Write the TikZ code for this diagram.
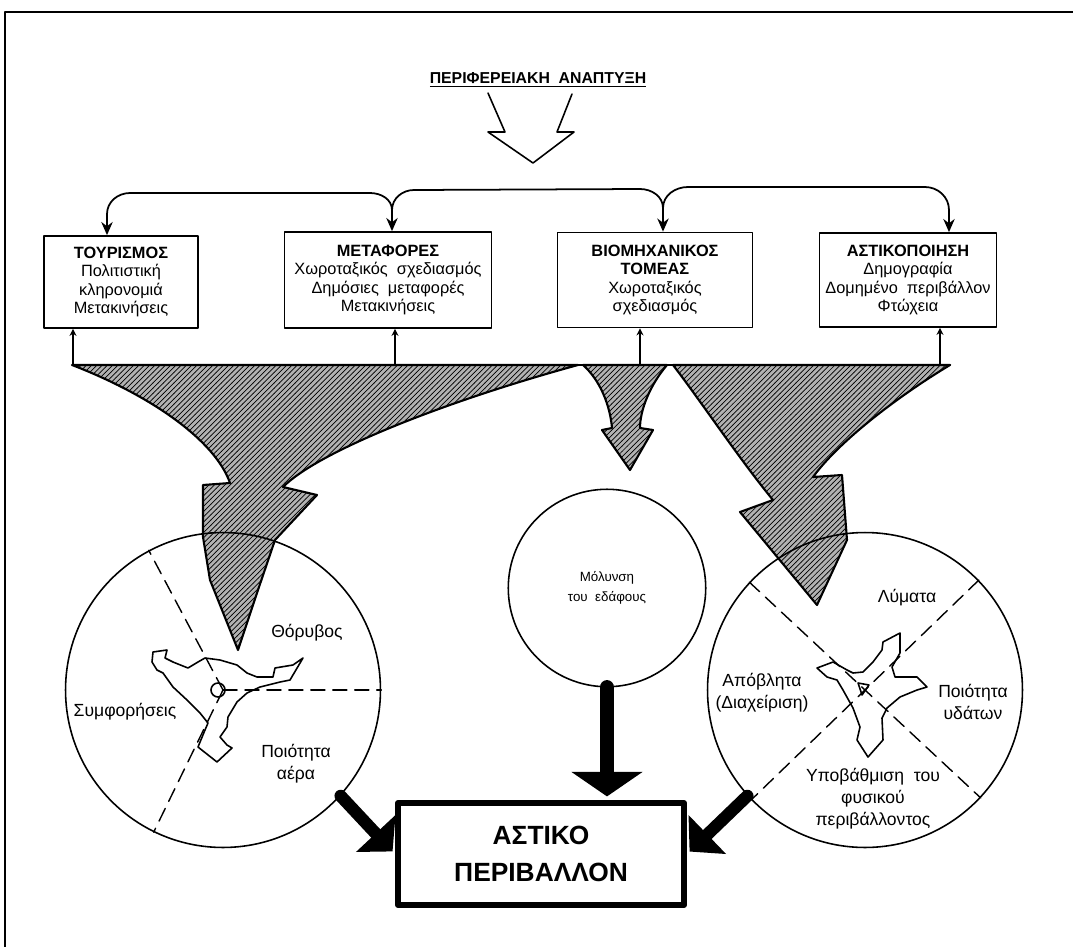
\documentclass[tikz,border=0pt]{standalone}
\usepackage{fontspec}
\setmainfont{Liberation Sans}
\usetikzlibrary{arrows.meta,patterns}

\begin{document}
\begin{tikzpicture}[line cap=round,line join=round,x=.02cm,y=-.02cm,
	box/.style={draw,line width=1pt,align=center,inner sep=2pt,font=\fontsize{9.3}{10.4}\selectfont},
	ring/.style={draw,circle,line width=.9pt,inner sep=0pt,align=center,font=\fontsize{7.6}{11}\selectfont},
	clabel/.style={align=center,font=\fontsize{10}{12.5}\selectfont},
	link/.style={line width=1pt,-{Stealth[length=7.5pt,width=6.5pt]}},
	uplink/.style={line width=.7pt,-{Stealth[length=4pt,width=4pt]}},
	ribbon/.style={line width=1.2pt,preaction={fill=gray!60},pattern=north east lines},
	sector/.style={line width=.8pt,dash pattern=on 8pt off 4.5pt},
	city/.style={line width=.9pt},
	bigarrow/.style={line width=7pt,shorten >=2pt,-{Triangle[length=14pt,width=30pt]}}]
		\useasboundingbox (0,0) rectangle (1073,947);
		\draw[line width=1pt] (5,947) -- (5,12) -- (1073,12);
		\node[font=\fontsize{9}{11}\selectfont\bfseries] (title) at (538,80) {\underline{ΠΕΡΙΦΕΡΕΙΑΚΗ\ \ ΑΝΑΠΤΥΞΗ}};
		\draw[line width=.9pt] (488,93) -- (505,132) -- (488,132) -- (533,163) -- (574,132) -- (557,132) -- (572,94);
		\node[box,minimum width=3.08cm,minimum height=1.84cm] (tour) at (121,282) {\textbf{ΤΟΥΡΙΣΜΟΣ}\\Πολιτιστική\\κληρονομιά\\Μετακινήσεις};
		\node[box,minimum width=4.14cm,minimum height=1.92cm] (meta) at (388,280) {\textbf{ΜΕΤΑΦΟΡΕΣ}\\Χωροταξικός\ \ σχεδιασμός\\Δημόσιες\ \ μεταφορές\\Μετακινήσεις};
		\node[box,minimum width=3.9cm,minimum height=1.9cm] (biom) at (655,280) {\textbf{ΒΙΟΜΗΧΑΝΙΚΟΣ}\\\textbf{ΤΟΜΕΑΣ}\\Χωροταξικός\\σχεδιασμός};
		\node[box,minimum width=3.54cm,minimum height=1.88cm] (astk) at (908,280) {\textbf{ΑΣΤΙΚΟΠΟΙΗΣΗ}\\Δημογραφία\\Δομημένο\ \ περιβάλλον\\Φτώχεια};
		\coordinate (t1) at (107,214);
		\coordinate (j1) at (392,210);
		\coordinate (j2) at (663,208);
		\coordinate (t4) at (949,210);
		\draw[link] (j1) to[out=90,in=0] (370,193) -- (130,193) to[out=180,in=90] (t1) -- (t1 |- tour.north);
		\draw[link] (j1) -- (j1 |- meta.north);
		\draw[link] (j1) to[out=90,in=180] (414,190) -- (640,189) to[out=0,in=90] (j2) -- (j2 |- biom.north);
		\draw[link] (j2) to[out=90,in=180] (688,187) -- (925,187) to[out=0,in=90] (t4) -- (t4 |- astk.north);
		\coordinate (u1) at (73,365);
		\coordinate (u2) at (395,365);
		\coordinate (u3) at (640,365);
		\coordinate (u4) at (940,365);
		\draw[uplink] (u1) -- (u1 |- tour.south);
		\draw[uplink] (u2) -- (u2 |- meta.south);
		\draw[uplink] (u3) -- (u3 |- biom.south);
		\draw[uplink] (u4) -- (u4 |- astk.south);
		\draw[ribbon] (72,365) -- (578,365) .. controls (450,400) and (320,450) .. (283,487) -- (317,495) -- (275,540) -- (258,590) -- (238,650) -- (210,580) -- (203,537) -- (203,485) -- (230,483) .. controls (215,440) and (150,395) .. (72,365) -- cycle;
		\draw[ribbon] (583,365) -- (667,365) .. controls (650,385) and (640,410) .. (640,428) -- (653,430) -- (630,470) -- (602,430) -- (612,428) .. controls (610,405) and (600,380) .. (583,365) -- cycle;
		\draw[ribbon] (673,365) -- (950,365) .. controls (900,395) and (840,440) .. (813,477) -- (842,475) -- (847,540) -- (817,605) -- (740,512) -- (773,500) .. controls (740,460) and (700,400) .. (673,365) -- cycle;
		\draw[line width=1.2pt] (u1) -- (950,365);
		\node[ring,minimum size=6.3cm] (lcirc) at (223,690) {};
		\node[ring,minimum size=3.95cm] (mcirc) at (607,588) {Μόλυνση\\του\ \ εδάφους};
		\node[ring,minimum size=6.3cm] (rcirc) at (865,690) {};
		\draw[sector] (lcirc.center) -- (lcirc.118);
		\draw[sector] (lcirc.center) -- (lcirc.244);
		\draw[sector] (lcirc.center) -- (lcirc.0);
		\draw[sector] (rcirc.137) -- (rcirc.317);
		\draw[sector] (rcirc.44) -- (rcirc.224);
		\draw[city] (153,652) -- (167,650) -- (165,658) -- (173,662) -- (188,668) -- (198,662) -- (205,658) -- (220,660) -- (237,665) -- (247,673) -- (257,677) -- (273,677) -- (275,668) -- (293,665) -- (303,658) -- (290,680) -- (280,682) -- (260,687) -- (247,693) -- (237,702) -- (228,717) -- (227,727) -- (220,737) -- (227,745) -- (232,748) -- (217,762) -- (198,747) -- (205,730) -- (208,723) -- (200,713) -- (187,700) -- (173,687) -- (163,673) -- (157,670) -- (152,662) -- cycle;
		\draw[city] (218,690) circle [radius=7];
		\draw[city] (817,668) -- (833,662) -- (847,670) -- (853,673) -- (863,672) -- (873,662) -- (882,650) -- (883,642) -- (900,633) -- (900,653) -- (892,667) -- (895,677) -- (917,677) -- (927,687) -- (917,690) -- (900,697) -- (887,708) -- (882,718) -- (883,740) -- (868,757) -- (857,740) -- (860,727) -- (853,708) -- (843,690) -- (837,680) -- (827,677) -- cycle;
		\draw[city] (858,683) -- (869,685) -- (862,695) -- cycle;
		\node[clabel] (noise) at (307,633) {Θόρυβος};
		\node[clabel] (cong) at (125,712) {Συμφορήσεις};
		\node[clabel] (air) at (296,764) {Ποιότητα\\αέρα};
		\node[clabel] (sew) at (907,598) {Λύματα};
		\node[clabel] (waste) at (762,693) {Απόβλητα\\(Διαχείριση)};
		\node[clabel] (water) at (973,702) {Ποιότητα\\υδάτων};
		\node[clabel] (degr) at (873,799) {Υποβάθμιση\ \ του\\φυσικού\\περιβάλλοντος};
		\node[draw,line width=3.5pt,minimum width=5.72cm,minimum height=2.04cm,align=center,font=\fontsize{15}{21}\selectfont\bfseries] (env) at (541,854) {ΑΣΤΙΚΟ\\ΠΕΡΙΒΑΛΛΟΝ};
		\draw[bigarrow,line width=8.5pt,-{Triangle[length=14pt,width=40pt]}] (mcirc.south) -- (mcirc.south |- env.north);
		\draw[bigarrow] (lcirc.-42) -- (env.west);
		\draw[bigarrow] (rcirc.222) -- (env.east);
	\end{tikzpicture}
\end{document}
